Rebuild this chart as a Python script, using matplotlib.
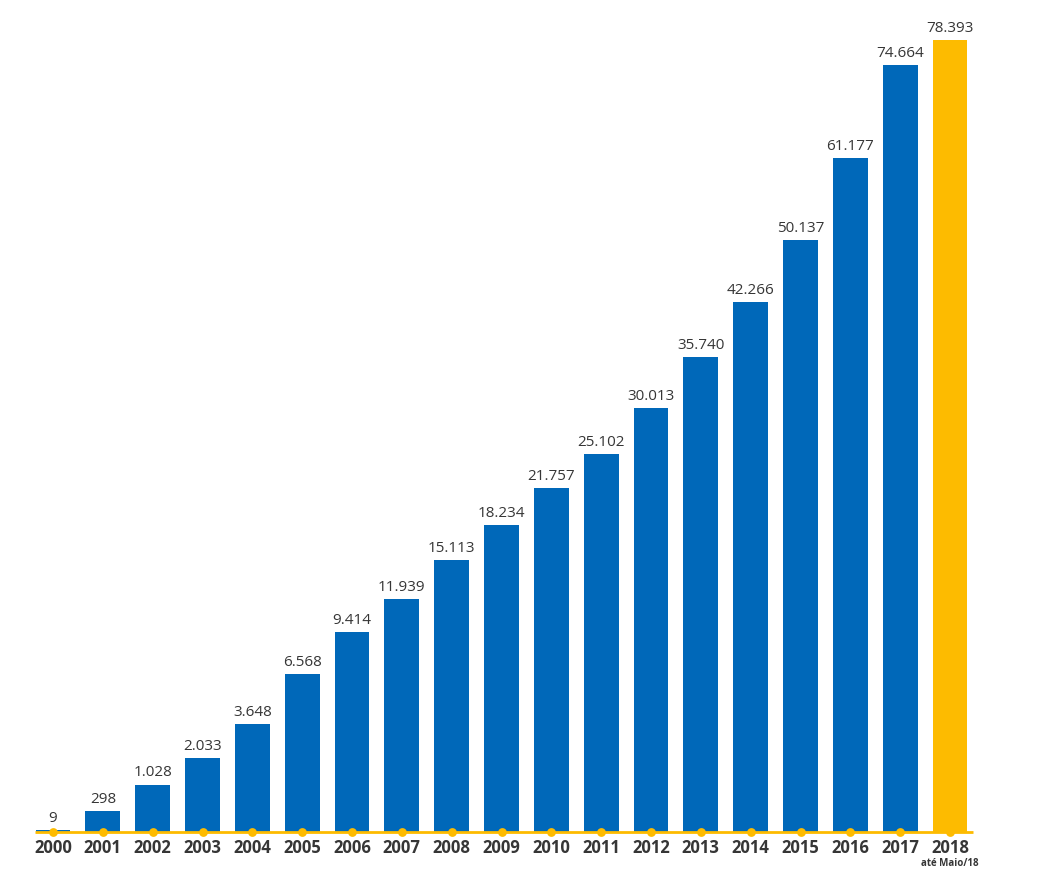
import numpy as np
import matplotlib
matplotlib.use('Agg')
import matplotlib.pyplot as plt
from matplotlib.transforms import blended_transform_factory

# === 數據 ===
years = ["2000", "2001", "2002", "2003", "2004", "2005", "2006", "2007", "2008", "2009",
         "2010", "2011", "2012", "2013", "2014", "2015", "2016", "2017", "2018"]
values = [9, 298, 1028, 2033, 3648, 6568, 9414, 11939, 15113, 18234,
          21757, 25102, 30013, 35740, 42266, 50137, 61177, 74664, 78393]
last_note = "até Maio/18"

BLUE = "#0068b9"
YELLOW = "#fdbb00"
TEXT = "#363636"

plt.rcParams['font.family'] = ['Open Sans', 'DejaVu Sans']

# the original infographic is not linear; a power scale gets close to its bar heights
POWER = 0.65


def fwd(v):
    v = np.asarray(v, dtype=float)
    return np.sign(v) * np.abs(v) ** POWER


def inv(v):
    v = np.asarray(v, dtype=float)
    return np.sign(v) * np.abs(v) ** (1 / POWER)


W, H = 1041, 873
fig = plt.figure(figsize=(W / 100, H / 100), dpi=100)
base_px = 832
top_px = 20
ax = fig.add_axes([0, (H - base_px) / H, 1, (base_px - top_px) / H])

x = np.arange(len(years))
colors = [BLUE] * (len(years) - 1) + [YELLOW]
ax.bar(x, values, width=0.7, color=colors, zorder=2)

ax.set_yscale('function', functions=(fwd, inv))
ymax = max(values) * ((base_px - top_px) / (base_px - 40)) ** (1 / POWER)
ax.set_ylim(0, ymax)

px_per_unit = (950 - 53) / (len(years) - 1)
ax.set_xlim(-53 / px_per_unit, (W - 53) / px_per_unit)

# 數值標籤
for xi, v in zip(x, values):
    ax.annotate(f"{v:,}".replace(",", "."), (xi, v), xytext=(0, 3),
                textcoords="offset points", ha="center", va="bottom",
                fontsize=11, color=TEXT)

# baseline and dots
ax.plot([x[0] - 0.37, x[-1] + 0.47], [0, 0], color=YELLOW, lw=2, zorder=3,
        clip_on=False, solid_capstyle='butt')
ax.scatter(x, np.zeros(len(x)), s=40, color=YELLOW, zorder=4, clip_on=False,
           linewidths=0)

ax.set_xticks(x)
ax.set_xticklabels(years, fontsize=12, fontweight='bold', color=TEXT)
ax.tick_params(axis='x', length=0, pad=5)
ax.set_yticks([])
for s in ax.spines.values():
    s.set_visible(False)

trans = blended_transform_factory(ax.transData, fig.transFigure)
ax.text(x[-1], (H - 863) / H, last_note, transform=trans, ha="center", va="center",
        fontsize=7, fontweight='bold', color=TEXT)

fig.savefig("out.png", dpi=100)
